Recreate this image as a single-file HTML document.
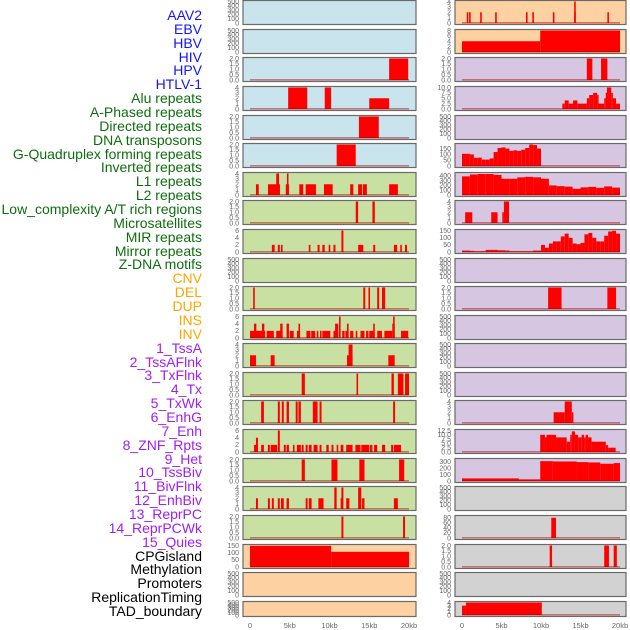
<!DOCTYPE html>
<html><head><meta charset="utf-8">
<style>
html,body{margin:0;padding:0;background:#fff;}
#wrap{position:relative;width:630px;height:630px;overflow:hidden;font-family:"Liberation Sans",sans-serif;}
.lab{position:absolute;right:428px;font-size:14px;line-height:14px;white-space:nowrap;}
svg{position:absolute;left:0;top:0;}
</style></head>
<body>
<div id="wrap">
<div id="labels"></div>
<svg id="chart" width="630" height="630"></svg>
</div>
<script>
// ---- label data ----
const trackNames = ["AAV2","EBV","HBV","HIV","HPV","HTLV-1","Alu repeats","A-Phased repeats","Directed repeats","DNA transposons","G-Quadruplex forming repeats","Inverted repeats","L1 repeats","L2 repeats","Low_complexity A/T rich regions","Microsatellites","MIR repeats","Mirror repeats","Z-DNA motifs","CNV","DEL","DUP","INS","INV","1_TssA","2_TssAFlnk","3_TxFlnk","4_Tx","5_TxWk","6_EnhG","7_Enh","8_ZNF_Rpts","9_Het","10_TssBiv","11_BivFlnk","12_EnhBiv","13_ReprPC","14_ReprPCWk","15_Quies","CPGisland","Methylation","Promoters","ReplicationTiming","TAD_boundary"];
const groupSizes = [6,13,5,15,5];
const groupColors = ["#1414ff","#0e6e0e","#ffa500","#a020f0","#000000"];

// ---- tick data ----
const T500=[0,100,200,300,400,500], T500L=["0","100","200","300","400","500"];
const T2=[0,0.5,1,1.5,2], T2L=["0.0","0.5","1.0","1.5","2.0"];
const T4=[0,1,2,3,4], T4L=["0","1","2","3","4"];
const T6=[0,2,4,6], T6L=["0","2","4","6"];
const T8=[0,2,4,6,8], T8L=["0","2","4","6","8"];
const T10=[0,2.5,5,7.5,10], T10L=["0.0","2.5","5.0","7.5","10.0"];
const T150=[0,50,100,150], T150L=["0","50","100","150"];
const T400=[0,100,200,300,400], T400L=["0","100","200","300","400"];
const T12=[0,2.5,5,7.5,10,12.5], T12L=["0.0","2.5","5.0","7.5","10.0","12.5"];
const T300=[0,100,200,300], T300L=["0","100","200","300"];
const T80=[0,20,40,60,80], T80L=["0","20","40","60","80"];
const xTicks=[0,5,10,15,20], xTickLabels=["0","5kb","10kb","15kb","20kb"];

// ---- series data: [start kb, end kb, value] ----
const L3=[[17.5,19.9,2]];
const L4=[[4.8,7.2,4],[9.4,10.2,4],[15.0,17.5,2]];
const L5=[[13.7,16.2,2]];
const L6=[[10.9,13.3,2]];
const L7=[[0.75,1.1,2],[2.26,3.77,2],[3.3,3.65,4],[4.5,4.9,2],[4.65,4.8,4],[6.2,6.7,2],[7.0,8.3,2],[9.3,10.4,2],[12.6,13.0,2],[13.6,14.1,2],[14.2,14.7,2],[17.5,18.6,2]];
const L8=[[13.3,13.6,2],[15.4,15.7,2]];
const L9=[[2.75,3.1,2],[3.5,3.75,2],[3.9,4.1,2],[7.4,7.6,2],[8.5,8.75,2],[9.1,9.4,2],[9.9,10.1,2],[10.5,10.75,2],[11.5,11.75,6],[13.6,14.25,2],[15.5,15.75,2],[18.1,18.5,2],[18.9,19.1,2],[19.5,19.75,2]];
const L11=[[0.4,0.6,2],[14.25,14.5,2],[14.9,15.1,2],[16.0,16.25,2],[16.6,17.0,2]];
const L12=[[0,1.9,2],[0.5,0.8,4],[1.5,1.8,4],[2.1,3,2],[3.3,4.1,2],[3.8,4.1,4],[4.6,4.9,4],[5,5.5,2],[5.9,6.3,2],[6.1,6.3,4],[7.1,7.6,2],[7.7,8.2,2],[8.4,8.6,2],[8.8,9,2],[9.1,10.1,2],[10.5,11.1,2],[10.7,11.1,4],[11.2,11.4,6],[11.6,11.9,2],[12,12.4,2],[12.2,12.4,4],[12.6,13,2],[13.3,13.5,2],[13.9,14.4,2],[14.6,14.9,2],[15,15.6,2],[15.5,15.7,4],[16,16.6,2],[16.9,17.9,2],[17.9,18.2,4],[18,18.2,6],[19,19.9,2]];
const L13=[[0,0.75,2],[2.6,3.1,2],[12.2,12.9,2],[12.4,12.9,4],[17.4,18.2,2]];
const L14=[[6.5,6.9,2],[13.4,13.6,2],[17.8,18.1,2],[18.6,19.3,2],[19.5,20,2]];
const L15=[[1.4,1.75,2],[3.5,3.75,2],[4,4.25,2],[4.6,4.9,2],[5.75,6,2],[6.1,6.4,2],[7.9,8.5,2],[8.75,9,2],[18,18.25,2]];
const L16=[[0.5,1,2],[0.75,1,4],[1.4,1.75,2],[2.25,2.5,2],[2.6,3.4,2],[3.5,3.75,6],[4.25,4.5,2],[4.6,4.9,2],[5.4,5.6,2],[5.9,6.4,2],[6.5,6.75,2],[7,7.25,2],[7.4,7.75,2],[8,8.5,2],[8.75,9,2],[9.6,9.9,2],[10.25,10.5,2],[10.9,11.1,2],[11.4,11.75,2],[12.1,12.9,2],[13.25,13.9,2],[14,15,2],[15.1,15.4,2],[15.6,16,2],[16.6,17,2],[17.75,18,2],[18.1,19,2]];
const L17=[[6.5,6.9,2],[10.25,11,2],[13.75,14.4,2],[18.75,19.4,2]];
const L18=[[0.75,1,2],[2.25,2.5,2],[2.75,3,2],[3.5,3.75,2],[3.9,4.25,2],[4.6,4.9,2],[7,7.25,2],[7.4,7.75,2],[8.6,9.25,2],[10.6,10.9,4],[11.4,11.6,2],[11.5,11.75,4],[12.1,12.5,2],[13.6,14,4],[14.1,14.4,2],[18.1,18.6,2]];
const L19=[[11.5,11.75,2],[19.25,19.5,2]];
const L20=[[0,10.2,148],[10.2,20,106]];
const R1=[[0.6,0.8,2],[0.9,1.1,2],[2.3,2.5,2],[4.2,4.4,2],[8.1,8.3,2],[8.9,9.1,2],[11.5,11.7,2],[14.2,14.4,4],[14.2,14.4,2],[18.4,18.6,2]];
const R2=[[0,9.9,4],[9.9,20,8]];
const R3=[[15.8,16.5,2],[17.6,18.4,2]];
const R4=[[12.7,13.0,2.5],[13.0,13.5,4],[13.5,14.05,2.5],[14.05,14.6,4],[14.6,15.8,2.5],[15.8,16.1,5],[16.1,16.6,6.5],[16.6,17.1,7.5],[17.1,17.2,6.5],[17.2,18.0,2.5],[18.0,18.2,5],[18.2,18.35,7.5],[18.35,18.9,10],[18.9,19.1,7.5],[19.1,19.5,5],[19.5,20,2.5]];
const R6bins=[105,105,100,70,72,55,55,65,120,155,160,150,130,135,130,140,155,185,180,150]; // 0.5kb bins
const R7bins=[390,430,440,440,420,340,340,370,380,370,340,200,185,175,130,160,170,150,180,155]; // 1kb bins
const R9bins=[10,10,8,5,5,5,15,15,15,12,12,10,5,5,5,5,5,5,10,10,50,30,60,75,75,110,130,100,60,55,65,125,135,100,75,75,115,145,150,130]; // 0.5kb bins
const R11=[[10.9,12.6,2],[18.4,19.5,2]];
const R15=[[11.6,13,2],[13,13.9,4],[13.9,14.1,2]];
const R16=[[9.9,10.5,10],[10.5,10.7,8.5],[10.7,11.9,10],[11.9,13.25,8.5],[13.25,13.7,6],[13.7,13.9,10],[13.9,14.3,12],[14.3,14.7,10],[14.7,15.15,8.5],[15.15,15.45,10],[15.45,15.65,8.5],[15.65,15.95,10],[15.95,16.4,8.5],[16.4,18.2,6],[18.2,18.5,4],[18.5,19.45,2.5]];
const R17=[[0,7.2,40],[7.2,9.9,25],[9.9,11.5,305],[11.5,14.5,300],[14.5,16,290],[16,17.5,285],[17.5,19.2,265],[19.2,20,275]];
const R19=[[11.3,11.9,80]];
const R20=[[11.1,11.4,2],[18,18.6,2],[19.2,19.6,2]];
const R22=[[0,0.5,3],[0.5,10.1,4]];

// ---- build labels ----
const labDiv=document.getElementById('labels');
let gi=0, gc=0;
trackNames.forEach((n,i)=>{
  while(gc>=groupSizes[gi]){gi++;gc=0;}
  gc++;
  const d=document.createElement('div');
  d.className='lab';
  
  
  d.style.top=(15+i*13.86-7)+'px';
  d.style.color=groupColors[gi];
  d.textContent=n;
  labDiv.appendChild(d);
});

// ---- panels ----
const BLUE="#c9e4ec",GREEN="#c8e1a3",PEACH="#fdd1a1",LAV="#d6c6e2",GRAY="#d2d2d2";
const rowTops=[0,29,57,86,115,143,172,200,229,258,286,315,343,372,400,429,458,486,515,544,572,601];
const E=null;
const leftCol=[
 [BLUE,T500,T500L,500,E],[BLUE,T500,T500L,500,E],[BLUE,T2,T2L,2,L3],[BLUE,T4,T4L,4,L4],[BLUE,T2,T2L,2,L5],[BLUE,T2,T2L,2,L6],
 [GREEN,T4,T4L,4,L7],[GREEN,T2,T2L,2,L8],[GREEN,T6,T6L,6,L9],[GREEN,T500,T500L,500,E],[GREEN,T2,T2L,2,L11],[GREEN,T6,T6L,6,L12],
 [GREEN,T4,T4L,4,L13],[GREEN,T2,T2L,2,L14],[GREEN,T2,T2L,2,L15],[GREEN,T6,T6L,6,L16],[GREEN,T2,T2L,2,L17],[GREEN,T4,T4L,4,L18],
 [GREEN,T2,T2L,2,L19],[PEACH,T150,T150L,150,L20],[PEACH,T500,T500L,500,E],[PEACH,T500,T500L,500,E]];
const rightCol=[
 [PEACH,T4,T4L,4,R1],[PEACH,T8,T8L,8,R2],[LAV,T2,T2L,2,R3],[LAV,T10,T10L,10,R4],[LAV,T500,T500L,500,E],[LAV,T150,T150L,185,{bins:R6bins,w:0.5}],
 [LAV,T400,T400L,450,{bins:R7bins,w:1}],[LAV,T4,T4L,4,[[0.4,1.3,2],[3.7,4.5,2],[5.1,5.3,2],[5.3,5.95,4]]],[LAV,T150,T150L,152,{bins:R9bins,w:0.5}],
 [LAV,T500,T500L,500,E],[LAV,T2,T2L,2,R11],[LAV,T500,T500L,500,E],[LAV,T500,T500L,500,E],[LAV,T500,T500L,500,E],
 [LAV,T4,T4L,4,R15],[LAV,T12,T12L,12.5,R16],[LAV,T300,T300L,330,R17],[GRAY,T500,T500L,500,E],[GRAY,T80,T80L,85,R19],
 [GRAY,T2,T2L,2,R20],[GRAY,T500,T500L,500,E],[GRAY,T4,T4L,4,R22]];

const svg=document.getElementById('chart');
const NS='http://www.w3.org/2000/svg';
function mk(tag,attrs,parent){const e=document.createElementNS(NS,tag);for(const k in attrs)e.setAttribute(k,attrs[k]);parent.appendChild(e);return e;}

function drawCol(cfg,px0,px1,x0,pxPerKb,colName){
  cfg.forEach((c,ri)=>{
    const [bg,ticks,tl,max,data]=c;
    const top=rowTops[ri]+0.5, h=(ri===21?15:24);
    const bottom=top+h;
    const g=mk('g',{},svg);
    
    
    mk('rect',{x:px0,y:top,width:px1-px0,height:h,fill:bg,stroke:'#6a6a6a','stroke-width':1.2},g);
    const yv=v=>bottom-1.5-(v/max)*(h-2.5);
    const xk=k=>x0+k*pxPerKb;
    ticks.forEach((t,i)=>{
      const tx=mk('text',{x:px0-4,y:yv(t)+2.3,'font-size':7,fill:'#666','text-anchor':'end','font-family':'Liberation Sans, sans-serif'},g);
      
      
      tx.textContent=tl[i];
    });
    if(!data) return;
    const segs=[];
    if(data.bins){data.bins.forEach((v,i)=>segs.push([i*data.w,(i+1)*data.w,v]));}
    else data.forEach(s=>segs.push(s));
    segs.forEach(s=>{
      const r=mk('rect',{x:xk(s[0]),y:yv(s[2]),width:Math.max(1.5,xk(s[1])-xk(s[0])),height:yv(0)-yv(s[2]),fill:'#ff0000'},g);
      
      
    });
    const bl=mk('rect',{x:xk(0),y:yv(0)-1,width:xk(20)-xk(0),height:1.6,fill:'rgba(170,0,0,0.45)'},g);
    
    
  });
  xTicks.forEach((t,i)=>{
    const tx=mk('text',{x:x0+t*pxPerKb,y:628,'font-size':7.5,fill:'#666','text-anchor':'middle','font-family':'Liberation Sans, sans-serif'},svg);
    
    
    tx.textContent=xTickLabels[i];
  });
}
drawCol(leftCol,243,416,250,7.95,'left');
drawCol(rightCol,455,626,462,7.9,'right');
</script>
</body></html>
